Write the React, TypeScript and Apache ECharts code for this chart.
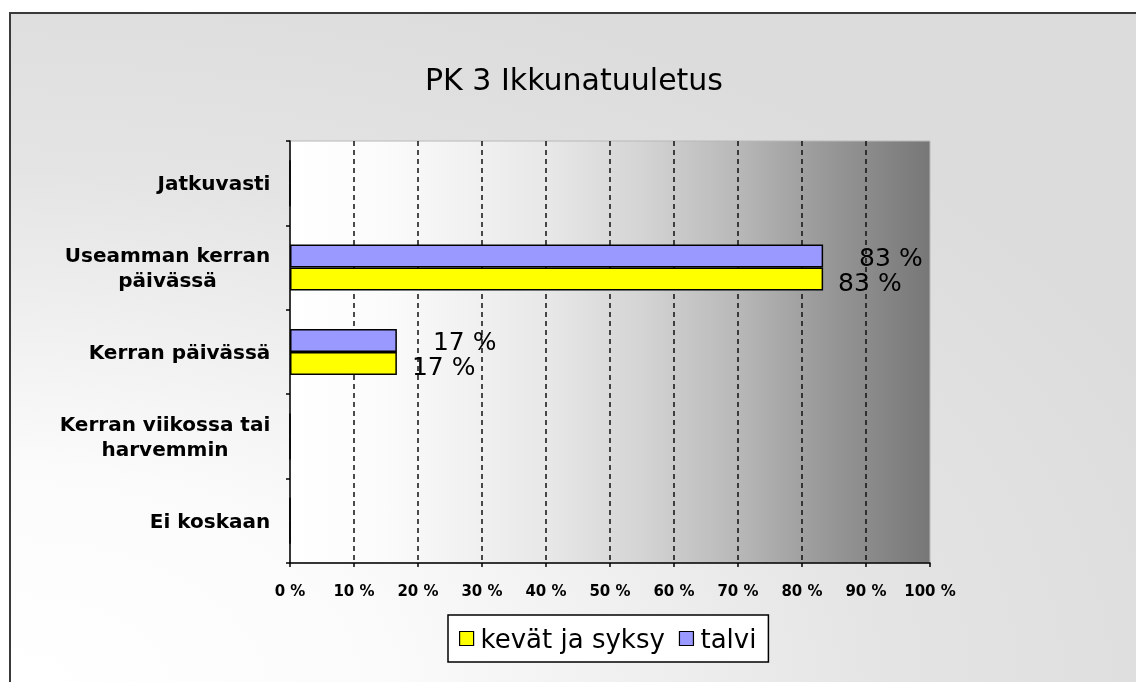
import React, { useEffect, useRef } from "react";
import * as echarts from "echarts";

const chartTitle = "PK 3 Ikkunatuuletus";
const categories = [
  "Jatkuvasti",
  "Useamman kerran\npäivässä",
  "Kerran päivässä",
  "Kerran viikossa tai\nharvemmin",
  "Ei koskaan",
];
const seriesNames = ["kevät ja syksy", "talvi"];
const kevatSyksy = [0, 83.3, 16.7, 0, 0];
const talvi = [0, 83.3, 16.7, 0, 0];

const FONT = "'DejaVu Sans', Verdana, sans-serif";

function measure(text: string, font: string): number {
  const ctx = document.createElement("canvas").getContext("2d");
  if (!ctx) return text.length * 11;
  ctx.font = font;
  return ctx.measureText(text).width;
}

export default function App() {
  const ref = useRef<HTMLDivElement>(null);

  useEffect(() => {
    if (!ref.current) return;
    const chart = echarts.init(ref.current, null, { renderer: "svg" });

    const labelFont = `bold 20px ${FONT}`;
    const rich: Record<string, any> = {};
    categories.forEach((c, i) => {
      const w = Math.max(...c.split("\n").map((l) => measure(l, labelFont)));
      rich["c" + i] = {
        width: Math.ceil(w) + 1,
        align: "center",
        fontSize: 20,
        fontWeight: "bold",
        fontFamily: FONT,
        color: "#000",
        lineHeight: 25,
      };
    });

    const pctLabel = (p: any) => (p.value ? Math.round(p.value) + " %" : "");

    const option: any = {
      animation: false,
      graphic: {
        elements: [
          {
            type: "rect",
            z: -100,
            silent: true,
            shape: { x: 10, y: 13, width: 1140, height: 680 },
            style: {
              fill: new echarts.graphic.RadialGradient(0, 1, 1.1, [
                { offset: 0, color: "#ffffff" },
                { offset: 0.3, color: "#fbfbfb" },
                { offset: 0.7, color: "#e4e4e4" },
                { offset: 1, color: "#dcdcdc" },
              ]),
              stroke: "#3a3a3a",
              lineWidth: 2,
            },
          },
          {
            type: "text",
            x: 574,
            y: 79,
            style: {
              text: chartTitle,
              fontSize: 30,
              fontFamily: FONT,
              fill: "#000",
              align: "center",
              verticalAlign: "middle",
            },
          },
        ],
      },
      grid: {
        left: 290,
        right: 206,
        top: 141,
        bottom: 119,
        show: true,
        borderColor: "#b8b8b8",
        borderWidth: 1,
        backgroundColor: new echarts.graphic.LinearGradient(0, 0, 1, 0, [
          { offset: 0, color: "#ffffff" },
          { offset: 0.15, color: "#fbfbfb" },
          { offset: 0.4, color: "#e8e8e8" },
          { offset: 0.55, color: "#d4d4d4" },
          { offset: 0.7, color: "#b8b8b8" },
          { offset: 0.82, color: "#9c9c9c" },
          { offset: 1, color: "#777777" },
        ]),
      },
      legend: {
        data: seriesNames,
        left: 448,
        top: 615,
        orient: "horizontal",
        backgroundColor: "#ffffff",
        borderColor: "#000",
        borderWidth: 1.5,
        borderRadius: 0,
        padding: [8, 12, 8, 11],
        itemGap: 14,
        itemWidth: 14,
        itemHeight: 14,
        icon: "rect",
        itemStyle: { borderColor: "#000", borderWidth: 1.2 },
        textStyle: {
          fontSize: 26,
          fontFamily: FONT,
          color: "#000",
          lineHeight: 31,
          padding: [0, 0, 0, 2],
        },
      },
      xAxis: {
        type: "value",
        min: 0,
        max: 100,
        interval: 10,
        axisLine: { show: true, lineStyle: { color: "#000", width: 1.5 } },
        axisTick: { show: true, length: 4, lineStyle: { color: "#000", width: 1.5 } },
        axisLabel: {
          formatter: "{value} %",
          fontSize: 15,
          fontWeight: "bold",
          fontFamily: FONT,
          color: "#000",
          margin: 20,
        },
        splitLine: {
          show: true,
          showMinLine: false,
          showMaxLine: false,
          lineStyle: { color: "#111", width: 1.5, type: [5, 4] },
        },
      },
      yAxis: {
        type: "category",
        data: categories,
        inverse: true,
        axisLine: { show: true, lineStyle: { color: "#000", width: 1.5 } },
        axisTick: { show: true, length: 4, lineStyle: { color: "#000", width: 1.5 } },
        axisLabel: {
          fontSize: 20,
          fontWeight: "bold",
          fontFamily: FONT,
          color: "#000",
          lineHeight: 25,
          margin: 19,
          align: "right",
          formatter: (v: string, i: number) =>
            v
              .split("\n")
              .map((l) => `{c${i}|${l}}`)
              .join("\n"),
          rich,
        },
        splitLine: { show: false },
      },
      series: [
        {
          name: seriesNames[1],
          type: "bar",
          data: talvi,
          barWidth: 23,
          barGap: "0%",
          itemStyle: { color: "#9999ff", borderColor: "#000", borderWidth: 1.5 },
          label: {
            show: true,
            position: "right",
            distance: 36,
            offset: [0, 1],
            lineHeight: 23,
            formatter: pctLabel,
            fontSize: 25,
            fontFamily: FONT,
            color: "#000",
          },
        },
        {
          name: seriesNames[0],
          type: "bar",
          data: kevatSyksy,
          barWidth: 23,
          barGap: "0%",
          itemStyle: { color: "#ffff00", borderColor: "#000", borderWidth: 1.5 },
          label: {
            show: true,
            position: "right",
            distance: 15,
            offset: [0, 3],
            lineHeight: 23,
            formatter: pctLabel,
            fontSize: 25,
            fontFamily: FONT,
            color: "#000",
          },
        },
      ],
    };

    chart.setOption(option);
    return () => chart.dispose();
  }, []);

  return (
    <div
      ref={ref}
      style={{ position: "fixed", left: 0, top: 0, width: 1136, height: 682 }}
    />
  );
}
